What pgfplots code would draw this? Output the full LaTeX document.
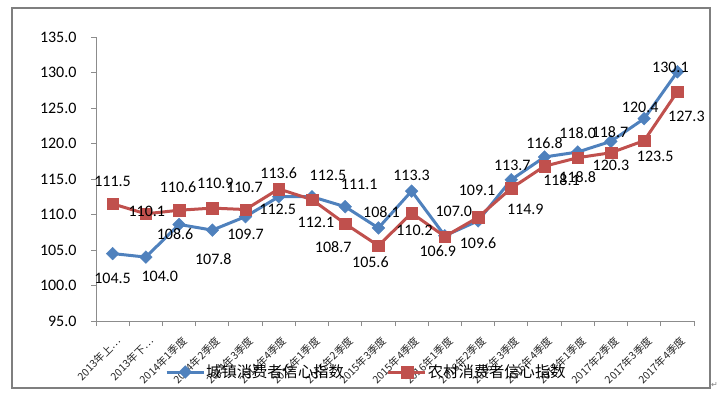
\documentclass[border=0pt]{standalone}
\usepackage{pgfplots}
\usepackage{pgfplotstable}
\pgfplotsset{compat=1.18}
\usepackage{fontspec}
\setmainfont{Carlito}
\newfontfamily\cjk{Noto Sans CJK SC}
\newfontfamily\djv{DejaVu Sans}
\definecolor{sblue}{HTML}{4F81BD}
\definecolor{sred}{HTML}{C0504D}
\definecolor{axgray}{HTML}{8C8C8C}
\definecolor{framegray}{HTML}{7F7F7F}

\pgfplotstableread{
x y dx dy
1 104.5 0 -24.5
2 104.0 14 -19
3 108.6 -4 -10
4 107.8 1 -29
5 109.7 0 -18
6 112.5 -1 -13
7 112.5 16 21
8 111.1 14 22
9 108.1 3 16
10 113.3 0 16
11 107.0 9 24
12 109.1 -1 31
13 114.9 14 -30
14 118.1 17 -23
15 118.8 0 -25
16 120.3 0 -24
17 123.5 11 -38
18 130.1 -7 4
}\urban

\pgfplotstableread{
x y dx dy
1 111.5 0 22
2 110.1 1 2
3 110.6 -1 23
4 110.9 3 25
5 110.7 -1 22
6 113.6 0 16
7 112.1 4 -23
8 108.7 -12 -23
9 105.6 -8 -16
10 110.2 3 -17
11 106.9 -7 -15
12 109.6 0 -26
13 113.7 1 23
14 116.8 0 23
15 118.0 0 25
16 118.7 -1 21
17 120.4 -4 33
18 127.3 9 -25
}\rural

\pgfplotsset{
  labelplot/.style={draw=none, mark=none, forget plot,
    point meta=y,
    nodes near coords={\pgfmathprintnumber[fixed,fixed zerofill,precision=1,assume math mode=true]{\pgfplotspointmeta}},
    nodes near coords align={center},
    visualization depends on={\thisrow{dx} \as \dx},
    visualization depends on={\thisrow{dy} \as \dy},
    every node near coord/.append style={xshift=\dx*1bp, yshift=\dy*1bp, text=black, font=\fontsize{16bp}{16bp}\selectfont}},
}

\begin{document}
\begin{tikzpicture}
\useasboundingbox (-96bp,-76bp) rectangle (624bp,321bp);
\begin{axis}[
  scale only axis, width=598bp, height=284bp,
  clip=false,
  xmin=0.5, xmax=18.5, ymin=95, ymax=135,
  axis x line*=bottom, axis y line*=left,
  axis line style={axgray, line width=0.8bp, -},
  tick align=outside,
  xtick={1,...,18},
  xticklabels={2013年上…,2013年下…,2014年1季度,2014年2季度,2014年3季度,2014年4季度,2015年1季度,2015年2季度,2015年3季度,2015年4季度,2016年1季度,2016年2季度,2016年3季度,2016年4季度,2017年1季度,2017年2季度,2017年3季度,2017年4季度},
  minor xtick={0.5,1.5,...,18.5},
  major x tick style={draw=none},
  minor x tick style={axgray, line width=0.8bp},
  minor tick length=5bp,
  ytick={95,100,...,135},
  major y tick style={axgray, line width=0.8bp},
  major tick length=5bp,
  /pgf/number format/assume math mode=true,
  yticklabel style={/pgf/number format/.cd, fixed, fixed zerofill, precision=1, /tikz/.cd, font=\fontsize{16bp}{16bp}\selectfont, text=black, xshift=-11bp},
  xticklabel style={font=\cjk\fontsize{10.5bp}{10.5bp}\selectfont, text=black!85, inner sep=0pt, anchor=east, xshift=6bp, yshift=-13bp, rotate=45},
  legend columns=2,
  legend style={draw=none, fill=none, inner sep=0pt, at={(axis description cs:0.1154,-0.1796)}, anchor=west,
    font=\cjk\fontsize{15.3bp}{15.3bp}\selectfont, nodes={inner sep=1bp},
    /tikz/every even column/.append style={column sep=42bp}},
  legend image code/.code={\draw[mark repeat=2,mark phase=2,#1] plot coordinates {(0bp,0bp) (18.5bp,0bp) (37bp,0bp)};},
]
\addplot[sblue, line width=3bp, mark=square*, mark size=4.5bp, mark options={rotate=45, solid, line width=0.4bp, fill=sblue}] table[x=x,y=y]{\urban};
\addlegendentry{城镇消费者信心指数}
\addplot[sred, line width=3bp, mark=square*, mark size=5.8bp, mark options={solid, line width=0.4bp, fill=sred}] table[x=x,y=y]{\rural};
\addlegendentry{农村消费者信心指数}
\addplot[labelplot] table[x=x,y=y]{\urban};
\addplot[labelplot] table[x=x,y=y]{\rural};
\end{axis}
\draw[framegray, line width=1.2bp] (-84bp,-67bp) rectangle (614bp,313bp);
\node[font=\djv\fontsize{8bp}{8bp}\selectfont, text=gray, anchor=west, inner sep=0pt] at (615bp,-64bp) {↵};
\end{tikzpicture}
\end{document}
